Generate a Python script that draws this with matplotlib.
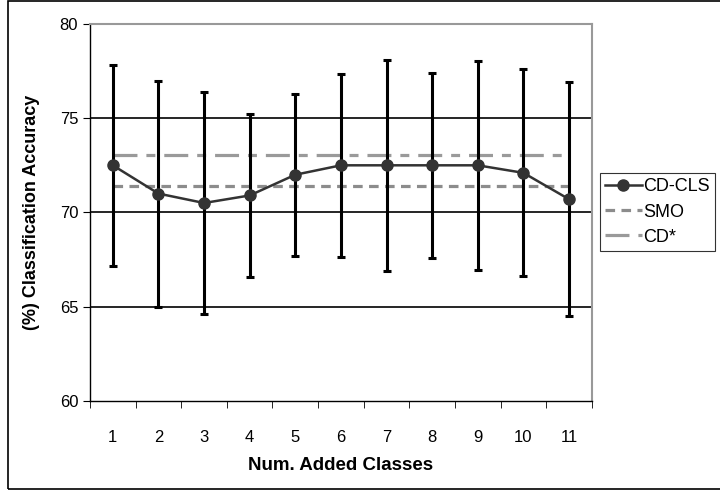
import numpy as np
import matplotlib.pyplot as plt
from matplotlib.patches import Rectangle

plt.rcParams['font.family'] = ['Liberation Sans', 'DejaVu Sans']

classes = [1, 2, 3, 4, 5, 6, 7, 8, 9, 10, 11]
cd_cls = [72.5, 71.0, 70.5, 70.9, 72.0, 72.5, 72.5, 72.5, 72.5, 72.1, 70.7]
upper = [77.85, 77.0, 76.4, 75.2, 76.3, 77.35, 78.1, 77.4, 78.05, 77.6, 76.9]
lower = [67.15, 65.0, 64.6, 66.55, 67.7, 67.65, 66.9, 67.6, 66.95, 66.6, 64.5]
smo = 71.4
cd_star = 73.05

x = np.arange(len(classes))
err_lo = np.array(cd_cls) - np.array(lower)
err_hi = np.array(upper) - np.array(cd_cls)

fig = plt.figure(figsize=(7.2, 4.9), dpi=100)
ax = fig.add_axes([0.125, 0.182, 0.697, 0.769])

for v in [65, 70, 75]:
    ax.axhline(v, color='black', lw=1.2, zorder=1)

smo_line, = ax.plot([x[0], x[-1]], [smo, smo], color='#8c8c8c', lw=2.3,
                    linestyle=(0, (3, 2)), zorder=2, label='SMO')
cd_line, = ax.plot([x[0], x[-1]], [cd_star, cd_star], color='#9a9a9a', lw=2.3,
                   linestyle=(0, (7.5, 2.8, 2.8, 2.8)), zorder=2, label='CD*')

ax.errorbar(x, cd_cls, yerr=[err_lo, err_hi], fmt='none', ecolor='black',
            elinewidth=2.2, capsize=3, capthick=2.2, zorder=3)
main, = ax.plot(x, cd_cls, color='#333333', lw=1.8, marker='o', markersize=8,
                zorder=4, label='CD-CLS')

ax.set_xlim(-0.5, len(classes) - 0.5)
ax.set_ylim(60, 80)
ax.set_yticks([60, 65, 70, 75, 80])
ax.set_xticks(x)
ax.set_xticklabels([str(c) for c in classes])
ax.set_xticks(np.arange(-0.5, len(classes)), minor=True)
ax.tick_params(axis='x', which='major', length=0, labelsize=12, pad=21)
ax.tick_params(axis='x', which='minor', length=5, direction='out', color='black')
ax.tick_params(axis='y', length=5, direction='out', labelsize=12)

for s in ['top', 'right']:
    ax.spines[s].set_color('#999999')
    ax.spines[s].set_linewidth(1.5)
for s in ['left', 'bottom']:
    ax.spines[s].set_color('black')
    ax.spines[s].set_linewidth(1.0)

ax.set_xlabel('Num. Added Classes', fontsize=13.5, fontweight='bold', labelpad=9)
ax.set_ylabel('(%) Classification Accuracy', fontsize=13, fontweight='bold', labelpad=14)

leg = fig.legend(handles=[main, smo_line, cd_line], loc='upper left',
                 bbox_to_anchor=(600 / 720, 1 - 173 / 490), frameon=True,
                 fancybox=False, edgecolor='black', fontsize=13,
                 handlelength=2.0, handletextpad=0.1, borderpad=0.3,
                 labelspacing=0.45, borderaxespad=0)
leg.get_frame().set_linewidth(0.8)

fig.patches.append(Rectangle((8 / 720, 0.002), 1.2, 0.996, transform=fig.transFigure,
                             fill=False, edgecolor='black', lw=1.2))

plt.savefig('out.png', dpi=100)
